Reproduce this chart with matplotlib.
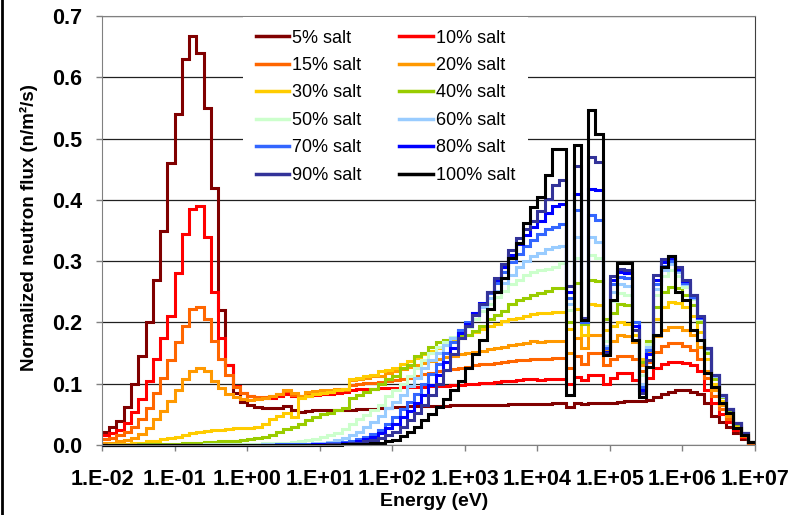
import matplotlib
matplotlib.use("Agg")
import numpy as np
from matplotlib import pyplot as plt
from matplotlib.lines import Line2D
from matplotlib.ticker import NullLocator

plt.rcParams['font.family'] = ['Liberation Sans', 'DejaVu Sans']

# group boundaries (eV), 10 groups per decade
energy_edges = [
    1.00e-2, 1.26e-2, 1.58e-2, 2.00e-2, 2.51e-2, 3.16e-2, 3.98e-2, 5.01e-2, 6.31e-2, 7.94e-2,
    1.00e-1, 1.26e-1, 1.58e-1, 2.00e-1, 2.51e-1, 3.16e-1, 3.98e-1, 5.01e-1, 6.31e-1, 7.94e-1,
    1.00e+0, 1.26e+0, 1.58e+0, 2.00e+0, 2.51e+0, 3.16e+0, 3.98e+0, 5.01e+0, 6.31e+0, 7.94e+0,
    1.00e+1, 1.26e+1, 1.58e+1, 2.00e+1, 2.51e+1, 3.16e+1, 3.98e+1, 5.01e+1, 6.31e+1, 7.94e+1,
    1.00e+2, 1.26e+2, 1.58e+2, 2.00e+2, 2.51e+2, 3.16e+2, 3.98e+2, 5.01e+2, 6.31e+2, 7.94e+2,
    1.00e+3, 1.26e+3, 1.58e+3, 2.00e+3, 2.51e+3, 3.16e+3, 3.98e+3, 5.01e+3, 6.31e+3, 7.94e+3,
    1.00e+4, 1.26e+4, 1.58e+4, 2.00e+4, 2.51e+4, 3.16e+4, 3.98e+4, 5.01e+4, 6.31e+4, 7.94e+4,
    1.00e+5, 1.26e+5, 1.58e+5, 2.00e+5, 2.51e+5, 3.16e+5, 3.98e+5, 5.01e+5, 6.31e+5, 7.94e+5,
    1.00e+6, 1.26e+6, 1.58e+6, 2.00e+6, 2.51e+6, 3.16e+6, 3.98e+6, 5.01e+6, 6.31e+6, 7.94e+6,
    1.00e+7,
]

salt_labels = ["5% salt", "10% salt", "15% salt", "20% salt", "30% salt", "40% salt",
               "50% salt", "60% salt", "70% salt", "80% salt", "90% salt", "100% salt"]
salt_colors = ["#800000", "#FF0000", "#FF6600", "#FF9900", "#FFCC00", "#99CC00",
               "#CCFFCC", "#99CCFF", "#3366FF", "#0000FF", "#333399", "#000000"]

flux_5 = [
    0.021, 0.030, 0.039, 0.062, 0.100, 0.145, 0.200, 0.270, 0.350, 0.460,
    0.540, 0.630, 0.668, 0.640, 0.550, 0.420, 0.220, 0.130, 0.085, 0.070,
    0.066, 0.062, 0.060, 0.060, 0.061, 0.064, 0.057, 0.054, 0.056, 0.057,
    0.057, 0.057, 0.057, 0.057, 0.057, 0.058, 0.058, 0.059, 0.060, 0.061,
    0.062, 0.062, 0.063, 0.063, 0.063, 0.064, 0.064, 0.064, 0.065, 0.065,
    0.065, 0.065, 0.066, 0.066, 0.066, 0.066, 0.067, 0.067, 0.067, 0.067,
    0.067, 0.067, 0.068, 0.068, 0.062, 0.068, 0.067, 0.069, 0.069, 0.068,
    0.069, 0.070, 0.071, 0.071, 0.072, 0.074, 0.078, 0.083, 0.087, 0.089,
    0.090, 0.087, 0.083, 0.068, 0.048, 0.037, 0.030, 0.020, 0.010, 0.003,
]
flux_10 = [
    0.016, 0.020, 0.024, 0.036, 0.054, 0.075, 0.105, 0.140, 0.175, 0.210,
    0.280, 0.345, 0.385, 0.390, 0.340, 0.250, 0.175, 0.130, 0.097, 0.085,
    0.080, 0.077, 0.076, 0.077, 0.080, 0.084, 0.080, 0.078, 0.080, 0.082,
    0.083, 0.084, 0.085, 0.086, 0.090, 0.091, 0.092, 0.092, 0.093, 0.093,
    0.093, 0.094, 0.094, 0.095, 0.095, 0.096, 0.097, 0.097, 0.098, 0.098,
    0.099, 0.100, 0.101, 0.102, 0.103, 0.104, 0.105, 0.106, 0.107, 0.108,
    0.106, 0.107, 0.108, 0.108, 0.100, 0.111, 0.106, 0.114, 0.114, 0.100,
    0.110, 0.117, 0.117, 0.106, 0.100, 0.110, 0.125, 0.132, 0.136, 0.136,
    0.134, 0.130, 0.120, 0.090, 0.068, 0.050, 0.038, 0.025, 0.013, 0.004,
]
flux_15 = [
    0.010, 0.012, 0.016, 0.022, 0.030, 0.042, 0.060, 0.085, 0.110, 0.138,
    0.168, 0.195, 0.222, 0.225, 0.205, 0.170, 0.140, 0.115, 0.095, 0.085,
    0.080, 0.078, 0.078, 0.080, 0.083, 0.088, 0.082, 0.080, 0.084, 0.086,
    0.087, 0.088, 0.089, 0.090, 0.098, 0.100, 0.101, 0.102, 0.103, 0.104,
    0.106, 0.108, 0.110, 0.113, 0.116, 0.118, 0.120, 0.122, 0.124, 0.126,
    0.128, 0.130, 0.132, 0.133, 0.134, 0.136, 0.137, 0.138, 0.139, 0.140,
    0.140, 0.141, 0.142, 0.142, 0.125, 0.145, 0.132, 0.150, 0.150, 0.130,
    0.140, 0.146, 0.146, 0.140, 0.120, 0.135, 0.152, 0.162, 0.166, 0.166,
    0.162, 0.155, 0.140, 0.110, 0.080, 0.058, 0.042, 0.027, 0.014, 0.004,
]
flux_20 = [
    0.003, 0.004, 0.006, 0.008, 0.012, 0.018, 0.028, 0.042, 0.055, 0.072,
    0.090, 0.107, 0.120, 0.125, 0.120, 0.105, 0.093, 0.084, 0.078, 0.075,
    0.074, 0.075, 0.077, 0.080, 0.084, 0.090, 0.085, 0.080, 0.086, 0.088,
    0.089, 0.090, 0.091, 0.092, 0.106, 0.108, 0.110, 0.112, 0.113, 0.118,
    0.121, 0.124, 0.127, 0.130, 0.134, 0.137, 0.140, 0.143, 0.146, 0.149,
    0.150, 0.152, 0.154, 0.156, 0.158, 0.160, 0.163, 0.165, 0.167, 0.169,
    0.168, 0.169, 0.170, 0.170, 0.150, 0.175, 0.158, 0.180, 0.180, 0.155,
    0.170, 0.180, 0.178, 0.168, 0.130, 0.150, 0.178, 0.188, 0.192, 0.192,
    0.188, 0.180, 0.160, 0.120, 0.090, 0.065, 0.047, 0.030, 0.016, 0.005,
]
flux_30 = [
    0.000, 0.001, 0.001, 0.002, 0.003, 0.004, 0.006, 0.007, 0.009, 0.011,
    0.013, 0.016, 0.019, 0.021, 0.023, 0.024, 0.025, 0.026, 0.027, 0.027,
    0.028, 0.030, 0.034, 0.042, 0.048, 0.053, 0.045, 0.077, 0.080, 0.083,
    0.085, 0.087, 0.089, 0.091, 0.107, 0.110, 0.113, 0.115, 0.120, 0.123,
    0.126, 0.132, 0.137, 0.142, 0.148, 0.153, 0.158, 0.164, 0.170, 0.175,
    0.180, 0.185, 0.190, 0.194, 0.198, 0.202, 0.205, 0.208, 0.211, 0.214,
    0.215, 0.216, 0.217, 0.217, 0.190, 0.222, 0.180, 0.230, 0.228, 0.188,
    0.195, 0.200, 0.198, 0.180, 0.140, 0.165, 0.205, 0.225, 0.233, 0.232,
    0.225, 0.210, 0.185, 0.140, 0.100, 0.072, 0.052, 0.033, 0.018, 0.005,
]
flux_40 = [
    0.000, 0.000, 0.000, 0.000, 0.000, 0.001, 0.001, 0.001, 0.001, 0.002,
    0.002, 0.003, 0.003, 0.004, 0.005, 0.005, 0.006, 0.006, 0.007, 0.008,
    0.009, 0.011, 0.013, 0.017, 0.022, 0.026, 0.029, 0.035, 0.041, 0.046,
    0.050, 0.053, 0.057, 0.060, 0.077, 0.082, 0.087, 0.092, 0.100, 0.108,
    0.112, 0.125, 0.130, 0.145, 0.150, 0.160, 0.168, 0.172, 0.175, 0.178,
    0.180, 0.186, 0.195, 0.205, 0.212, 0.218, 0.230, 0.236, 0.240, 0.245,
    0.248, 0.252, 0.256, 0.256, 0.200, 0.265, 0.198, 0.270, 0.268, 0.205,
    0.215, 0.230, 0.228, 0.200, 0.135, 0.170, 0.225, 0.250, 0.258, 0.256,
    0.245, 0.228, 0.200, 0.150, 0.108, 0.078, 0.056, 0.035, 0.019, 0.005,
]
flux_50 = [
    0.000, 0.000, 0.000, 0.000, 0.000, 0.000, 0.000, 0.000, 0.000, 0.000,
    0.000, 0.000, 0.000, 0.000, 0.001, 0.001, 0.001, 0.001, 0.002, 0.002,
    0.002, 0.002, 0.003, 0.003, 0.004, 0.004, 0.005, 0.006, 0.008, 0.010,
    0.013, 0.016, 0.020, 0.026, 0.035, 0.042, 0.049, 0.057, 0.066, 0.080,
    0.090, 0.100, 0.112, 0.125, 0.138, 0.150, 0.160, 0.168, 0.176, 0.184,
    0.192, 0.205, 0.218, 0.230, 0.242, 0.252, 0.262, 0.270, 0.277, 0.282,
    0.285, 0.288, 0.290, 0.297, 0.220, 0.305, 0.200, 0.310, 0.305, 0.170,
    0.235, 0.248, 0.245, 0.200, 0.115, 0.165, 0.245, 0.275, 0.285, 0.275,
    0.258, 0.238, 0.205, 0.155, 0.112, 0.080, 0.058, 0.036, 0.019, 0.005,
]
flux_60 = [
    0.000, 0.000, 0.000, 0.000, 0.000, 0.000, 0.000, 0.000, 0.000, 0.000,
    0.000, 0.000, 0.000, 0.000, 0.000, 0.000, 0.000, 0.000, 0.000, 0.000,
    0.000, 0.000, 0.001, 0.001, 0.001, 0.001, 0.002, 0.002, 0.002, 0.003,
    0.003, 0.005, 0.008, 0.011, 0.016, 0.022, 0.030, 0.038, 0.048, 0.060,
    0.070, 0.082, 0.096, 0.110, 0.125, 0.138, 0.150, 0.163, 0.175, 0.188,
    0.198, 0.212, 0.226, 0.240, 0.252, 0.265, 0.278, 0.290, 0.300, 0.308,
    0.314, 0.320, 0.323, 0.325, 0.230, 0.340, 0.200, 0.340, 0.332, 0.162,
    0.250, 0.262, 0.260, 0.200, 0.100, 0.160, 0.255, 0.285, 0.295, 0.282,
    0.262, 0.240, 0.207, 0.157, 0.113, 0.080, 0.058, 0.036, 0.019, 0.005,
]
flux_70 = [
    0.000, 0.000, 0.000, 0.000, 0.000, 0.000, 0.000, 0.000, 0.000, 0.000,
    0.000, 0.000, 0.000, 0.000, 0.000, 0.000, 0.000, 0.000, 0.000, 0.000,
    0.000, 0.000, 0.000, 0.000, 0.001, 0.001, 0.001, 0.001, 0.001, 0.002,
    0.002, 0.003, 0.004, 0.005, 0.007, 0.010, 0.013, 0.018, 0.025, 0.035,
    0.046, 0.058, 0.070, 0.084, 0.100, 0.116, 0.132, 0.150, 0.168, 0.188,
    0.200, 0.215, 0.230, 0.248, 0.265, 0.282, 0.298, 0.312, 0.325, 0.335,
    0.345, 0.352, 0.356, 0.360, 0.240, 0.383, 0.200, 0.375, 0.367, 0.158,
    0.262, 0.274, 0.272, 0.200, 0.095, 0.155, 0.262, 0.292, 0.300, 0.285,
    0.265, 0.242, 0.208, 0.158, 0.114, 0.081, 0.058, 0.036, 0.019, 0.005,
]
flux_80 = [
    0.000, 0.000, 0.000, 0.000, 0.000, 0.000, 0.000, 0.000, 0.000, 0.000,
    0.000, 0.000, 0.000, 0.000, 0.000, 0.000, 0.000, 0.000, 0.000, 0.000,
    0.000, 0.000, 0.000, 0.000, 0.000, 0.000, 0.000, 0.000, 0.000, 0.001,
    0.001, 0.001, 0.002, 0.003, 0.004, 0.006, 0.009, 0.013, 0.019, 0.028,
    0.035, 0.045, 0.056, 0.068, 0.082, 0.098, 0.115, 0.135, 0.158, 0.182,
    0.198, 0.215, 0.232, 0.250, 0.270, 0.290, 0.310, 0.328, 0.342, 0.355,
    0.366, 0.378, 0.390, 0.394, 0.250, 0.410, 0.205, 0.418, 0.416, 0.152,
    0.270, 0.282, 0.280, 0.195, 0.090, 0.148, 0.270, 0.298, 0.305, 0.288,
    0.268, 0.244, 0.209, 0.158, 0.114, 0.081, 0.058, 0.036, 0.019, 0.005,
]
flux_90 = [
    0.000, 0.000, 0.000, 0.000, 0.000, 0.000, 0.000, 0.000, 0.000, 0.000,
    0.000, 0.000, 0.000, 0.000, 0.000, 0.000, 0.000, 0.000, 0.000, 0.000,
    0.000, 0.000, 0.000, 0.000, 0.000, 0.000, 0.000, 0.000, 0.000, 0.000,
    0.000, 0.001, 0.001, 0.002, 0.003, 0.004, 0.006, 0.008, 0.011, 0.016,
    0.022, 0.030, 0.040, 0.052, 0.066, 0.082, 0.100, 0.122, 0.148, 0.175,
    0.195, 0.212, 0.230, 0.250, 0.272, 0.295, 0.318, 0.338, 0.352, 0.366,
    0.382, 0.402, 0.425, 0.432, 0.260, 0.455, 0.207, 0.470, 0.462, 0.150,
    0.275, 0.288, 0.286, 0.188, 0.085, 0.138, 0.278, 0.303, 0.308, 0.290,
    0.270, 0.245, 0.210, 0.158, 0.114, 0.081, 0.058, 0.036, 0.019, 0.005,
]
flux_100 = [
    0.000, 0.000, 0.000, 0.000, 0.000, 0.000, 0.000, 0.000, 0.000, 0.000,
    0.000, 0.000, 0.000, 0.000, 0.000, 0.000, 0.000, 0.000, 0.000, 0.000,
    0.000, 0.000, 0.000, 0.000, 0.000, 0.000, 0.000, 0.000, 0.000, 0.000,
    0.000, 0.000, 0.000, 0.001, 0.001, 0.001, 0.002, 0.003, 0.004, 0.006,
    0.008, 0.014, 0.022, 0.030, 0.040, 0.050, 0.062, 0.075, 0.090, 0.104,
    0.125, 0.148, 0.172, 0.222, 0.250, 0.272, 0.305, 0.329, 0.362, 0.389,
    0.405, 0.440, 0.483, 0.483, 0.082, 0.490, 0.204, 0.546, 0.508, 0.147,
    0.237, 0.297, 0.297, 0.171, 0.078, 0.127, 0.180, 0.290, 0.308, 0.250,
    0.237, 0.187, 0.171, 0.117, 0.095, 0.068, 0.052, 0.027, 0.016, 0.005,
]

all_flux = [flux_5, flux_10, flux_15, flux_20, flux_30, flux_40,
            flux_50, flux_60, flux_70, flux_80, flux_90, flux_100]

x_ticks = [1e-2, 1e-1, 1e0, 1e1, 1e2, 1e3, 1e4, 1e5, 1e6, 1e7]
x_tick_labels = ["1.E-02", "1.E-01", "1.E+00", "1.E+01", "1.E+02",
                 "1.E+03", "1.E+04", "1.E+05", "1.E+06", "1.E+07"]
y_ticks = [0.0, 0.1, 0.2, 0.3, 0.4, 0.5, 0.6, 0.7]
y_tick_labels = ["0.0", "0.1", "0.2", "0.3", "0.4", "0.5", "0.6", "0.7"]

fig = plt.figure(figsize=(7.92, 5.15), dpi=100)
ax = fig.add_axes([0.1288, 0.1359, 0.8245, 0.833])

for vals, col in zip(all_flux, salt_colors):
    ax.stairs(vals, energy_edges, baseline=None, color=col, lw=2.2, clip_on=False)

ax.set_xscale('log')
ax.set_xlim(1e-2, 1e7)
ax.set_ylim(0, 0.7)
ax.set_xticks(x_ticks)
ax.set_xticklabels(x_tick_labels, fontsize=15.5, fontweight='bold')
ax.xaxis.set_minor_locator(NullLocator())
ax.set_yticks(y_ticks)
ax.set_yticklabels(y_tick_labels, fontsize=15.5, fontweight='bold')
ax.tick_params(axis='both', direction='out', length=4, width=1, color='#808080')
ax.tick_params(axis='y', pad=10)
ax.tick_params(axis='x', pad=13)

ax.yaxis.grid(True, color='#202020', lw=0.9)
ax.set_axisbelow(True)
for side in ['left', 'bottom', 'top']:
    ax.spines[side].set_color('#808080')
ax.spines['right'].set_color('#404040')

ax.set_xlabel("Energy (eV)", fontsize=14, fontweight='bold')
ax.xaxis.set_label_coords(0.508, -0.113)
ax.set_ylabel("Normalized neutron flux (n/m\u00b2/s)", fontsize=13.5, fontweight='bold')
ax.yaxis.set_label_coords(-0.098, 0.506)

# legend in 2 columns: left 5..90, right 10..100
handles = [Line2D([0], [0], color=c, lw=2.5) for c in salt_colors]
order = [0, 2, 4, 6, 8, 10, 1, 3, 5, 7, 9, 11]
leg = ax.legend([handles[i] for i in order], [salt_labels[i] for i in order],
                ncol=2, loc='upper left', bbox_to_anchor=(0.216, 0.998),
                borderaxespad=0, borderpad=0.7, fontsize=13, handlelength=1.86,
                handletextpad=0.15, columnspacing=2.1, labelspacing=0.58,
                frameon=True, fancybox=False, framealpha=1, edgecolor='none',
                facecolor='white')

fig.add_artist(Line2D([0.003, 0.003], [0, 1], transform=fig.transFigure,
                      color='black', lw=2))

fig.savefig("out.png", dpi=100)
